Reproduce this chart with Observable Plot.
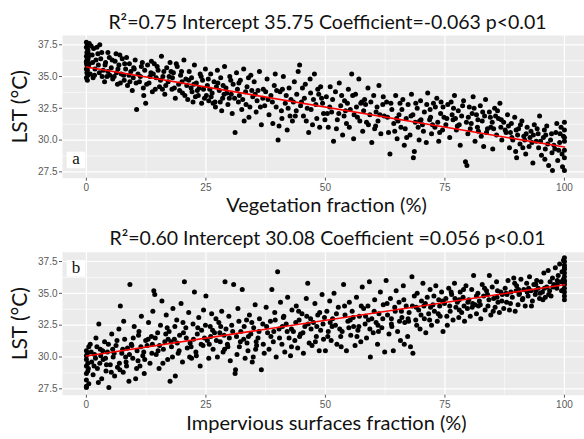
<!DOCTYPE html>
<html><head><meta charset="utf-8">
<script src="https://cdn.jsdelivr.net/npm/d3@7"></script>
<script src="https://cdn.jsdelivr.net/npm/@observablehq/plot@0.6"></script>
<style>body{margin:0;background:#fff;} svg{display:block;}</style>
</head><body><div id="chart"></div>
<script>
const xTicks = [0, 25, 50, 75, 100];
const xMinor = [12.5, 37.5, 62.5, 87.5];
const yTicks = [27.5, 30, 32.5, 35, 37.5];
const yMinor = [28.75, 31.25, 33.75, 36.25];

const titleA = "R²=0.75 Intercept 35.75 Coefficient=-0.063 p<0.01";
const titleB = "R²=0.60 Intercept 30.08 Coefficient =0.056 p<0.01";
const xLabelA = "Vegetation fraction (%)";
const xLabelB = "Impervious surfaces fraction (%)";
const yLabel = "LST (°C)";

const fitA = [{x: 0, y: 35.75}, {x: 100, y: 29.45}];
const fitB = [{x: 0, y: 30.08}, {x: 100, y: 35.68}];

// Panel a: vegetation fraction vs LST
const vegA1 = [[0,37.7],[0.2,37.5],[0,37.3],[0.3,37.1],[0.1,36.9],[0.4,36.8],[0,36.6],[0.2,36.4],[0.3,36.3],[0,36.1],[0.1,36.0],[0.4,35.8],[0,35.6],[0.2,35.5],[0.1,35.3],[0.3,35.1],[0,34.9],[0.2,34.7],[0.4,36.5],[0.1,35.9],[0.3,37.0],[0,36.2],
[1.0,37.4],[1.5,37.2],[2.2,37.3],[2.8,37.5],[1.2,36.7],[2.0,36.3],[1.8,35.6],[2.5,35.9],[3.0,36.4],[0.8,35.2],[1.4,34.9],[2.7,35.3],[3.2,36.9],[0.6,36.0],
[3.5,35.5],[4.0,36.1],[4.3,35.0],[4.8,36.5],[5.2,35.7],[5.5,34.8],[6.0,36.2],[6.3,35.3],[6.8,35.9],[7.1,34.5],[7.5,36.4],[7.8,35.1],[8.2,35.6],[8.6,34.3],[9.0,36.0],[9.3,35.4],[9.8,34.9],[10.2,36.3],[10.5,32.4],[10.8,35.2],[11.1,34.6],[11.5,35.8],[11.9,34.1],[12.2,35.5],[12.4,32.9],[3.8,34.6],[5.8,35.0],[7.0,36.7],[8.9,35.1],[10.0,35.6],[11.7,36.1],[6.5,34.4],[9.6,33.9],[12.0,33.5],[4.5,35.4],[8.0,36.0],[4.5,36.9],[6.2,36.8]];
const vegA2 = [[12.8,35.9],[13.1,34.5],[13.5,35.3],[13.8,33.8],[14.2,36.0],[14.6,34.9],[15.0,35.5],[15.3,34.2],[15.7,36.6],[16.0,35.0],[16.4,33.6],[16.8,35.7],[17.1,34.6],[17.5,36.1],[17.9,34.0],[18.2,35.3],[18.6,33.3],[19.0,35.8],[19.3,34.4],[19.7,35.1],[20.1,33.7],[20.4,36.3],[20.8,34.8],[21.2,33.2],[21.5,35.4],[21.9,34.1],[22.3,33.0],[22.6,35.9],[23.0,34.5],[23.4,33.5],[23.8,35.2],[24.1,32.9],[24.5,34.0],[24.9,35.6],[13.3,35.0],[15.5,34.7],[17.3,35.0],[19.5,33.9],[21.0,34.3],[22.0,34.9],[23.2,33.9],[24.3,34.7],[20.0,34.6],[18.0,34.9],[14.0,35.2],[16.6,34.3],[22.8,33.4],[24.7,33.3],
[25.3,34.3],[25.6,33.1],[26.0,35.2],[26.3,33.7],[26.7,34.6],[27.0,32.6],[27.4,35.5],[27.8,33.9],[28.1,34.9],[28.5,33.3],[28.9,35.8],[29.2,34.1],[29.6,32.8],[30.0,35.0],[30.3,33.6],[30.7,34.4],[31.1,30.6],[31.4,35.3],[31.8,33.0],[32.2,34.7],[32.5,32.4],[32.9,35.6],[33.3,33.8],[33.6,34.2],[34.0,31.8],[34.4,35.1],[34.8,33.4],[35.1,34.6],[35.5,32.2],[35.9,33.9],[36.2,35.4],[36.6,31.2],[37.0,34.0],[37.3,32.7],[25.8,34.0],[27.2,34.2],[28.8,33.6],[30.5,32.1],[32.0,33.5],[33.9,34.9],[35.7,33.1],[36.9,33.3],[26.5,32.9],[29.9,33.3],[31.6,34.0],[34.2,32.6],[28.3,32.3],[33.0,31.5]];
const vegA3 = [[37.8,34.8],[38.2,32.0],[38.6,33.5],[39.0,31.3],[39.3,34.3],[39.7,32.6],[40.1,30.0],[40.5,33.8],[40.9,31.7],[41.2,35.0],[41.6,32.9],[42.0,30.8],[42.4,34.1],[42.8,33.2],[43.1,31.5],[43.5,34.6],[43.9,32.3],[44.3,35.4],[44.6,35.9],[45.0,33.0],[45.4,31.9],[45.8,34.4],[46.2,32.5],[46.5,30.6],[46.9,33.7],[47.3,31.2],[47.7,35.2],[48.0,32.8],[48.4,34.0],[48.8,31.0],[49.2,33.3],[49.6,32.1],[38.9,33.0],[40.8,32.3],[42.6,31.9],[44.0,33.6],[45.6,33.3],[47.0,32.4],[48.6,33.6],[49.9,31.6],[41.0,34.0],[43.3,33.0],[46.8,34.8],[39.5,35.2],
[50.2,33.4],[50.6,31.0],[51.0,34.2],[51.3,32.2],[51.7,29.9],[52.1,33.8],[52.5,31.6],[52.9,34.5],[53.2,32.7],[53.6,30.4],[54.0,33.1],[54.4,31.3],[54.8,34.0],[55.2,32.4],[55.5,35.2],[55.9,30.1],[56.3,33.6],[56.7,31.8],[57.0,34.8],[57.4,32.9],[57.8,30.7],[58.2,33.2],[58.6,31.4],[58.9,34.1],[59.3,32.0],[59.7,29.8],[60.1,33.5],[60.5,31.1],[60.8,32.6],[61.2,34.3],[61.6,30.5],[62.0,32.8],[62.3,31.9],[50.9,32.6],[52.8,32.1],[54.6,32.9],[56.0,32.0],[57.6,33.0],[59.0,31.2],[60.6,32.2],[53.9,31.9],[55.7,33.5],[58.0,32.3],[61.0,31.5]];
const vegA4 = [[62.8,33.0],[63.2,30.6],[63.5,28.9],[63.9,32.4],[64.3,31.3],[64.7,33.5],[65.0,30.1],[65.4,32.0],[65.8,31.0],[66.2,33.2],[66.5,29.6],[66.9,31.7],[67.3,32.8],[67.7,30.4],[68.0,33.6],[68.4,28.6],[68.6,29.1],[68.8,31.4],[69.2,32.5],[69.6,30.0],[69.9,33.1],[70.3,31.2],[70.7,32.2],[71.1,29.8],[71.4,33.7],[71.8,31.6],[72.2,30.5],[72.6,32.9],[72.9,31.0],[73.3,33.3],[73.7,29.9],[74.1,32.1],[74.5,30.8],[74.8,31.8],[63.0,31.8],[64.9,31.7],[66.7,30.9],[68.3,32.0],[70.0,31.6],[71.9,32.4],[73.5,31.4],[65.6,32.9],[69.4,31.0],[72.4,31.2],[74.2,33.0],
[75.2,31.2],[75.6,32.8],[76.0,30.2],[76.3,33.0],[76.7,31.6],[77.0,33.5],[77.4,30.8],[77.8,32.3],[78.2,29.6],[78.5,31.9],[78.9,33.1],[79.3,28.3],[79.6,28.0],[79.8,30.5],[80.1,32.6],[80.5,31.3],[80.9,33.4],[81.3,29.9],[81.6,32.0],[82.0,30.7],[82.4,32.7],[82.8,31.5],[83.1,29.5],[83.5,33.2],[83.9,30.9],[84.3,32.2],[84.6,31.0],[85.0,29.3],[85.4,32.5],[85.8,30.4],[86.2,31.7],[86.5,32.9],[86.9,30.0],[87.3,31.4],[76.5,32.0],[78.0,31.2],[79.9,31.8],[81.8,31.0],[83.3,31.9],[84.9,31.4],[86.7,31.0],[77.2,31.7],[80.7,32.1],[82.6,30.3],[85.6,31.9]];
const vegA5 = [[87.8,30.6],[88.1,32.0],[88.5,29.4],[88.9,31.3],[89.2,30.0],[89.6,31.8],[90.0,28.6],[90.4,30.9],[90.7,29.7],[91.1,31.5],[91.5,30.3],[91.9,28.9],[92.2,31.0],[92.6,29.5],[93.0,30.7],[93.4,28.2],[93.7,31.2],[94.1,29.9],[94.5,30.5],[94.8,31.9],[95.2,28.8],[95.6,30.2],[96.0,29.3],[96.3,31.1],[96.7,28.0],[97.1,30.0],[97.5,27.6],[97.8,29.6],[98.2,30.6],[98.6,28.4],[99.0,29.8],[99.3,31.0],[99.6,27.9],[99.8,30.3],[100,29.2],[100,28.6],[100,30.8],[100,27.6],[100,31.4],[88.7,30.6],[90.2,30.4],[91.7,30.0],[93.2,29.8],[94.6,29.4],[96.1,30.4],[97.4,29.0],[98.8,29.2],[89.8,29.1],[92.8,30.2],[95.9,28.5]];
const vegA6 = [[0.6,37.6],[1.3,36.1],[1.7,35.1],[2.4,36.8],[3.3,35.0],[3.9,35.9],[4.9,35.1],[5.4,36.3],[6.6,35.6],[7.3,35.2],[7.9,34.7],[8.4,36.5],[9.1,34.6],[9.9,35.7],[10.4,34.5],[11.3,35.0],[12.6,34.4],[13.6,36.2],[14.4,34.0],[14.8,35.8],[15.9,34.0],[16.2,35.4],[17.7,35.4],[18.4,34.1],[18.8,36.0],[19.9,35.4],[20.6,33.5],[21.4,34.7],[22.1,33.8],[22.5,34.4],[23.6,34.1],[24.0,35.0],[25.1,33.5],[25.5,34.8],[26.1,33.4],[26.9,33.0],[27.5,34.5],[28.0,33.0],[28.6,34.3],[29.4,33.7],[30.2,34.7],[31.0,33.3],[31.9,34.5],[32.7,33.2],[33.4,32.8],[34.6,33.9],[35.3,33.6],[36.4,32.6],[37.5,33.8],[38.0,33.2],[39.8,33.9],[40.3,31.1],[41.8,33.5],[42.2,32.5],[43.7,31.9],[44.8,32.7],[45.2,34.1],[46.0,31.5],[47.5,33.2],[48.2,31.7],[49.0,34.2],[49.4,32.9],[50.4,32.1],[51.5,33.2],[52.3,30.9],[53.4,33.5],[54.2,32.3],[55.0,31.0],[56.5,32.6],[57.2,31.5],[58.4,32.8],[59.5,33.0],[60.3,30.9],[61.4,32.0],[62.1,33.4],[63.7,32.9],[64.5,30.7],[65.2,31.5],[66.0,32.4],[67.0,30.2],[67.9,31.9],[68.9,32.9],[69.7,31.5],[70.5,30.7],[71.2,32.8],[72.0,31.8],[73.0,32.6],[73.9,30.6],[74.6,32.6],[75.4,31.7],[76.8,32.5],[77.6,31.1],[78.7,32.7],[79.5,31.4],[80.3,30.9],[81.1,32.5],[81.9,31.6],[82.9,32.2],[83.7,30.6],[84.5,31.8],[85.2,30.9],[86.0,32.3],[86.8,31.6],[87.6,30.8],[88.3,31.1],[89.0,30.2],[89.9,30.8],[90.8,31.2],[91.3,29.4],[92.0,30.5],[93.5,30.4],[94.3,30.9],[95.0,29.9],[95.8,30.8],[96.5,29.7],[97.3,30.5],[98.0,29.3],[98.4,31.3],[99.1,30.5],[99.5,28.9],[100,29.9],[100,30.2]];

// Panel b: impervious surfaces fraction vs LST
const impB1 = [[0,30.5],[0,30.1],[0,29.8],[0,29.3],[0,28.7],[0,28.2],[0,27.7],[0,27.6],[0.3,29.5],[0.3,28.9],[0.5,30.8],[0.5,27.9],
[0.8,31.0],[1.1,29.6],[1.4,28.6],[1.7,30.2],[2.0,31.5],[2.3,29.1],[2.6,32.6],[2.9,30.6],[3.2,28.3],[3.5,29.8],[3.8,31.2],[4.1,28.9],[4.4,30.4],[4.7,27.6],[5.0,29.4],[5.3,31.8],[5.6,30.0],[5.9,28.5],[6.2,30.9],[6.5,29.2],[6.8,32.2],[7.1,34.0],[7.4,30.3],[7.7,28.8],[8.0,31.4],[8.3,29.6],[8.6,30.7],[8.9,28.1],[9.1,35.7],[9.4,31.0],[9.7,29.9],[10.0,32.4],[10.3,28.3],[10.6,30.5],[10.9,31.7],[11.2,29.3],[11.5,33.2],[11.8,30.1],[12.1,28.7],[12.4,31.3],[1.9,29.9],[3.0,30.1],[4.2,29.4],[5.5,30.6],[6.9,29.5],[8.2,30.0],[9.5,30.9],[10.8,29.7],[12.0,30.4],[2.5,28.0],[7.8,32.8],[11.0,32.0]];
const impB2 = [[12.7,30.9],[13.0,32.7],[13.3,29.5],[13.6,31.6],[13.9,33.6],[14.1,35.2],[14.3,34.9],[14.6,30.2],[14.9,31.9],[15.2,29.1],[15.5,32.5],[15.8,34.4],[16.1,30.6],[16.4,31.2],[16.7,33.3],[17.0,29.8],[17.3,32.0],[17.5,28.1],[17.8,30.8],[18.1,33.8],[18.4,31.4],[18.6,28.5],[18.9,32.9],[19.2,30.3],[19.5,31.7],[19.8,34.2],[20.1,29.6],[20.5,35.9],[20.8,32.3],[21.1,30.7],[21.4,33.5],[21.7,31.1],[22.0,29.9],[22.3,32.6],[22.6,35.1],[22.9,30.4],[23.2,31.8],[23.5,33.1],[23.8,29.3],[24.1,32.1],[24.4,30.9],[24.7,31.5],[13.8,31.0],[15.0,30.5],[16.6,31.8],[18.0,30.0],[19.0,31.1],[20.3,31.9],[21.9,30.8],[23.0,30.1],[24.5,33.7],[17.1,31.4],
[25.0,34.8],[25.3,31.3],[25.6,29.9],[25.9,32.4],[26.2,33.4],[26.5,30.6],[26.8,31.9],[27.1,33.0],[27.4,30.0],[27.7,32.7],[28.0,31.2],[28.3,33.6],[28.6,30.4],[29.0,35.9],[29.2,32.2],[29.5,31.0],[29.8,33.2],[30.1,29.7],[30.4,32.5],[30.8,35.7],[31.1,28.7],[31.2,29.0],[31.4,31.6],[31.7,33.8],[32.0,30.8],[32.3,32.0],[32.6,35.3],[32.9,31.4],[33.2,29.9],[33.5,32.9],[33.8,30.5],[34.1,33.3],[34.4,31.8],[34.7,29.6],[35.0,32.3],[35.3,34.1],[35.6,30.9],[35.9,31.5],[36.2,33.0],[36.6,29.0],[36.9,32.6],[37.2,30.3],[26.0,31.6],[27.9,31.9],[29.9,31.5],[31.9,32.8],[33.6,31.1],[35.5,31.2],[28.9,30.6],[34.9,30.0]];
const impB3 = [[37.6,33.9],[37.9,31.9],[38.2,30.6],[38.5,32.8],[38.8,35.3],[39.1,31.2],[39.4,33.5],[39.7,30.0],[40.0,36.7],[40.3,32.2],[40.6,34.3],[40.9,31.0],[41.2,33.1],[41.5,30.4],[41.8,32.6],[42.1,34.7],[42.4,31.5],[42.7,30.1],[43.0,33.7],[43.3,32.0],[43.6,31.3],[43.9,34.0],[44.2,30.7],[44.5,32.9],[44.8,31.8],[45.1,33.4],[45.4,30.3],[45.7,32.4],[46.0,34.6],[46.3,35.8],[46.6,31.1],[46.9,33.0],[47.2,30.9],[47.5,32.7],[47.8,34.2],[48.1,31.6],[48.4,33.3],[48.7,30.5],[49.0,32.1],[49.3,34.9],[49.6,31.4],[39.2,32.0],[41.0,32.4],[42.9,32.2],[44.6,31.6],[46.4,32.6],[48.2,32.4],[49.8,33.1],
[50.0,30.5],[50.3,33.6],[50.6,32.0],[50.9,34.4],[51.2,31.3],[51.5,33.0],[51.8,35.0],[52.1,32.5],[52.4,31.0],[52.7,33.9],[53.0,32.2],[53.3,30.8],[53.8,35.7],[54.1,33.3],[54.4,30.5],[54.7,32.8],[55.0,34.3],[55.3,31.7],[55.6,33.6],[55.9,32.4],[56.2,30.9],[56.5,34.7],[56.8,32.1],[57.1,33.2],[57.4,31.2],[57.7,35.5],[58.0,33.8],[58.3,32.6],[58.6,31.5],[58.9,34.0],[59.2,35.9],[59.4,30.0],[59.7,33.0],[60.0,31.9],[60.3,34.5],[60.6,32.7],[60.9,31.0],[61.2,33.4],[61.5,35.1],[61.8,32.3],[62.1,34.1],[62.4,30.4],[51.0,32.7],[53.5,32.0],[55.2,32.9],[57.0,32.4],[59.0,32.9],[61.0,32.5]];
const impB4 = [[62.7,36.0],[63.0,33.3],[63.3,31.8],[63.6,34.6],[63.9,32.4],[64.2,30.5],[64.5,33.9],[64.8,35.2],[65.1,32.0],[65.4,34.3],[65.7,31.3],[66.0,33.1],[66.3,35.6],[66.6,32.7],[66.9,34.0],[67.2,31.6],[67.5,33.5],[67.8,30.8],[68.1,36.3],[68.3,30.3],[68.6,34.8],[68.9,32.9],[69.2,35.0],[69.5,33.7],[69.8,32.2],[70.1,34.4],[70.4,35.8],[70.7,33.0],[71.0,31.9],[71.3,34.7],[71.6,33.4],[71.9,35.3],[72.2,32.5],[72.5,34.1],[72.8,33.6],[73.1,35.6],[73.4,32.8],[73.7,34.5],[74.0,33.2],[74.3,35.1],[74.6,32.0],[74.9,34.2],[63.8,33.0],[65.9,33.6],[67.4,32.8],[69.0,33.9],[70.6,34.0],[72.0,33.9],[73.9,34.0],[66.5,31.0],
[75.2,34.6],[75.5,32.5],[75.8,35.4],[76.1,33.6],[76.4,34.9],[76.7,32.9],[77.0,35.8],[77.3,33.9],[77.6,34.3],[77.9,33.1],[78.2,35.1],[78.5,33.5],[78.8,34.7],[79.1,32.8],[79.4,35.6],[79.7,33.8],[80.0,34.5],[80.3,33.2],[80.6,35.3],[81.0,36.4],[81.3,34.1],[81.6,33.4],[81.9,35.0],[82.2,34.4],[82.5,33.0],[82.8,35.7],[83.1,34.8],[83.4,33.7],[83.7,35.2],[84.0,34.0],[84.3,36.4],[84.6,33.3],[84.9,35.5],[85.2,34.6],[85.5,33.9],[85.8,35.9],[86.1,34.3],[86.4,33.5],[86.7,35.1],[87.0,34.9],[87.3,33.8],[76.0,34.0],[78.0,34.5],[80.8,34.2],[82.0,34.0],[83.9,34.9],[85.9,34.7],[79.0,34.0]];
const impB5 = [[87.6,35.4],[87.9,34.3],[88.2,36.0],[88.5,33.7],[88.8,35.1],[89.1,34.7],[89.4,36.2],[89.7,33.6],[90.0,35.6],[90.3,34.1],[90.6,35.0],[90.9,36.1],[91.2,34.5],[91.5,35.3],[91.8,34.0],[92.1,35.8],[92.4,34.8],[92.7,36.3],[93.0,35.2],[93.3,34.4],[93.6,35.7],[93.9,34.9],[94.2,36.0],[94.5,35.4],[94.8,34.6],[95.1,35.9],[95.4,35.1],[95.7,36.6],[96.0,34.7],[96.3,35.5],[96.6,36.8],[96.9,35.2],[97.2,34.8],[97.5,36.2],[97.8,35.7],[98.1,37.0],[98.4,35.4],[98.7,36.4],[99.0,37.3],[99.3,35.9],[99.5,36.7],[100,37.8],[100,37.5],[100,37.2],[100,36.9],[100,36.6],[100,36.3],[100,36.0],[100,35.7],[100,35.4],[100,35.1],[100,34.8],[99.8,37.6],[99.8,36.1],[99.8,35.3],[90.5,34.9],[92.5,35.4],[94.0,35.2],[95.5,34.5],[97.0,35.9],[98.5,35.7],[88.0,34.9],[89.9,35.2]];
const impB6 = [[0.2,30.3],[0.4,29.1],[1.0,30.4],[1.6,29.3],[2.2,30.8],[2.8,29.5],[3.4,30.5],[4.0,29.9],[4.6,31.0],[5.2,28.8],[5.8,30.3],[6.4,31.3],[7.0,29.0],[7.6,30.6],[8.4,29.3],[9.0,30.2],[9.8,31.5],[10.5,29.1],[11.4,30.8],[12.2,29.8],[12.9,31.4],[13.7,30.3],[14.4,31.5],[15.3,30.9],[16.0,29.5],[16.9,32.3],[17.7,31.2],[18.5,32.4],[19.4,30.5],[20.2,32.7],[20.9,31.5],[21.6,30.0],[22.4,31.4],[23.3,32.3],[24.0,31.0],[24.9,32.5],[25.7,31.0],[26.4,32.1],[27.2,31.3],[28.1,32.4],[28.8,31.7],[29.6,30.8],[30.6,32.0],[31.5,30.2],[32.2,31.2],[33.0,32.4],[33.9,31.6],[34.6,32.7],[35.4,30.6],[36.1,32.0],[37.0,31.0],[37.7,32.4],[38.6,31.6],[39.5,32.9],[40.4,31.5],[41.3,33.2],[42.0,32.0],[42.9,30.8],[43.8,32.7],[44.4,33.6],[45.3,31.9],[46.1,33.2],[47.0,32.2],[47.9,31.2],[48.8,33.5],[49.5,32.6],[50.5,31.6],[51.4,32.4],[52.3,33.4],[53.2,31.6],[54.0,34.0],[54.9,32.3],[55.8,33.1],[56.6,31.6],[57.5,34.0],[58.4,33.2],[59.3,32.2],[60.2,33.6],[61.1,32.0],[62.0,33.0],[62.9,34.2],[63.8,32.6],[64.6,33.6],[65.5,32.8],[66.4,34.5],[67.3,33.0],[68.2,34.0],[69.1,32.5],[70.0,33.3],[70.9,34.2],[71.8,32.9],[72.7,34.8],[73.6,33.4],[74.5,34.4],[75.4,33.2],[76.3,35.1],[77.1,34.6],[78.0,33.7],[78.9,35.3],[79.8,34.3],[80.7,33.9],[81.6,34.8],[82.4,34.1],[83.3,35.4],[84.2,34.5],[85.1,33.6],[86.0,35.2],[86.9,34.4],[87.8,35.0],[88.7,34.2],[89.6,35.8],[90.4,35.3],[91.3,34.6],[92.2,35.1],[93.1,34.0],[94.0,35.7],[94.9,35.0],[95.8,35.4],[96.7,34.9],[97.6,35.5],[98.5,36.0],[99.4,35.2],[100,34.5],[100,37.0],[100,35.9]];

const vegPoints = [...vegA1, ...vegA2, ...vegA3, ...vegA4, ...vegA5, ...vegA6];
const impPoints = [...impB1, ...impB2, ...impB3, ...impB4, ...impB5, ...impB6];

const labelFont = "Lato, 'Open Sans', sans-serif";

function tagMark(letter, atTop) {
  return (index, scales, values, dims) => {
    const g = d3.create("svg:g");
    const x0 = dims.marginLeft + 4.7;
    const y0 = atTop ? dims.marginTop + 8.3 : dims.height - dims.marginBottom - 26;
    g.append("rect").attr("x", x0).attr("y", y0).attr("width", 18.5).attr("height", 16.6).attr("fill", "white");
    g.append("text").attr("x", x0 + 9.25).attr("y", atTop ? y0 + 13.2 : y0 + 12.5)
      .attr("text-anchor", "middle").attr("font-family", "'Liberation Serif', 'DejaVu Serif', serif")
      .attr("font-size", 17).attr("fill", "#111").text(letter);
    return g.node();
  };
}

function panel({points, fit, title, titleDy, xLabel, xLabelDy, tag, tagTop, height, marginTop}) {
  return Plot.plot({
    width: 584, height, marginTop, marginBottom: 44.3, marginLeft: 62, marginRight: 0,
    style: {fontFamily: "'Liberation Sans', Arial, sans-serif", background: "white", overflow: "visible"},
    x: {domain: [-5, 104.2]},
    y: {domain: [27.0, 38.23]},
    marks: [
      Plot.frame({fill: "#EBEBEB", stroke: null}),
      Plot.ruleX(xMinor, {stroke: "white", strokeWidth: 0.6}),
      Plot.ruleY(yMinor, {stroke: "white", strokeWidth: 0.6}),
      Plot.ruleX(xTicks, {stroke: "white", strokeWidth: 1.2}),
      Plot.ruleY(yTicks, {stroke: "white", strokeWidth: 1.2}),
      Plot.axisX(xTicks, {tickSize: 3, tickPadding: 2.5, fontSize: 10, color: "#5a5a5a", label: null}),
      Plot.axisY(yTicks, {tickSize: 3, tickPadding: 2, fontSize: 10, color: "#5a5a5a", label: null, tickFormat: d => d.toFixed(1)}),
      Plot.dot(points, {x: d => d[0], y: d => d[1], r: 2.5, fill: "black", stroke: null}),
      Plot.line(fit, {x: "x", y: "y", stroke: "#ff0000", strokeWidth: 1.6}),
      tagMark(tag, tagTop),
      Plot.text([title], {frameAnchor: "top", lineAnchor: "bottom", dy: titleDy, dx: 4, fontSize: 19.5, fontFamily: labelFont, fill: "#111"}),
      Plot.text([xLabel], {frameAnchor: "bottom", lineAnchor: "bottom", dy: xLabelDy, dx: 3, fontSize: 20, fontFamily: labelFont, fill: "#111"}),
      Plot.text([yLabel], {frameAnchor: "left", lineAnchor: "middle", textAnchor: "middle", rotate: -90, dx: -42, fontSize: 21, fontFamily: labelFont, fill: "#111"})
    ]
  });
}

const root = document.getElementById("chart");
root.appendChild(panel({points: vegPoints, fit: fitA, title: titleA, titleDy: -7, xLabel: xLabelA, xLabelDy: 33.5, tag: "a", tagTop: false, height: 222, marginTop: 35}));
root.appendChild(panel({points: impPoints, fit: fitB, title: titleB, titleDy: -7.2, xLabel: xLabelB, xLabelDy: 34.3, tag: "b", tagTop: true, height: 217, marginTop: 29.7}));
</script></body></html>
